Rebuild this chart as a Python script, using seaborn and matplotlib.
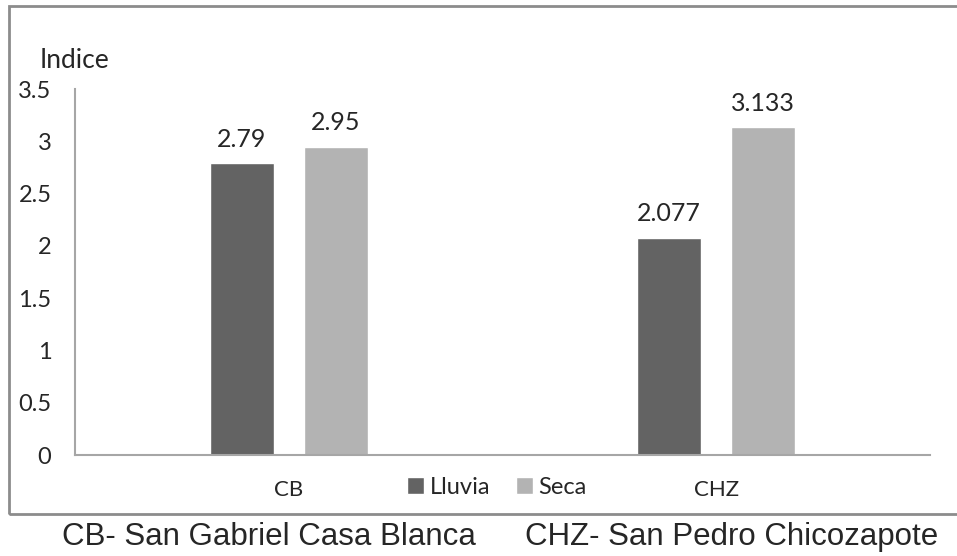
import seaborn as sns
import matplotlib.pyplot as plt
import pandas as pd
from matplotlib.patches import Rectangle

sites = ["CB", "CHZ"]
seasons = ["Lluvia", "Seca"]
lluvia = [2.79, 2.077]
seca = [2.95, 3.133]
value_labels = {"Lluvia": ["2.79", "2.077"], "Seca": ["2.95", "3.133"]}
yticks = [0, 0.5, 1, 1.5, 2, 2.5, 3, 3.5]
ytick_labels = ["0", "0.5", "1", "1.5", "2", "2.5", "3", "3.5"]
footer_cb = "CB- San Gabriel Casa Blanca"
footer_chz = "CHZ- San Pedro Chicozapote"

df = pd.DataFrame({
    "site": sites * 2,
    "season": ["Lluvia"] * 2 + ["Seca"] * 2,
    "value": lluvia + seca,
})

sns.set_style("white")
plt.rcParams["font.family"] = ["Lato", "DejaVu Sans"]

W, H = 957, 556
fig = plt.figure(figsize=(W / 100, H / 100), dpi=100)
ax = fig.add_axes([75 / W, (H - 455) / H, 855 / W, (455 - 89) / H])

sns.barplot(data=df, x="site", y="value", hue="season", order=sites,
            hue_order=seasons, palette=["#636363", "#b3b3b3"],
            width=0.44, gap=0.32, ax=ax, legend=True)

for cont, s in zip(ax.containers, seasons):
    ax.bar_label(cont, labels=value_labels[s], padding=9, fontsize=18)

ax.set_xlim(-0.5, 1.5)
ax.set_ylim(0, 3.5)
ax.set_yticks(yticks)
ax.set_yticklabels(ytick_labels, fontsize=17)
ax.tick_params(axis="y", length=0, pad=17)
ax.tick_params(axis="x", length=0, pad=18, labelsize=16)
ax.set_xlabel("")
ax.set_ylabel("")
for side in ["top", "right"]:
    ax.spines[side].set_visible(False)
for side in ["left", "bottom"]:
    ax.spines[side].set_color("#a6a6a6")
    ax.spines[side].set_linewidth(1.5)

handles, labels = ax.get_legend_handles_labels()
ax.get_legend().remove()
fig.legend(handles, labels, loc="center", bbox_to_anchor=(497 / W, 1 - 487 / H),
           ncol=2, frameon=False, fontsize=17, handlelength=0.7, handleheight=0.7,
           handletextpad=0.25, columnspacing=1.1)

fig.text(40 / W, 1 - 60 / H, "Indice", fontsize=19, va="center", ha="left")

# outer frame (open on the right)
fig.patches.append(Rectangle((9 / W, 1 - 514 / H), 1.0, (514 - 6) / H,
                             transform=fig.transFigure, fill=False,
                             edgecolor="#8c8c8c", linewidth=2))

fig.text(62 / W, 1 - 537 / H, footer_cb, fontsize=22.5, va="center", ha="left",
         family=["Liberation Sans", "DejaVu Sans"])
fig.text(525 / W, 1 - 537 / H, footer_chz, fontsize=22.5, va="center", ha="left",
         family=["Liberation Sans", "DejaVu Sans"])

fig.savefig("out.png", dpi=100)
